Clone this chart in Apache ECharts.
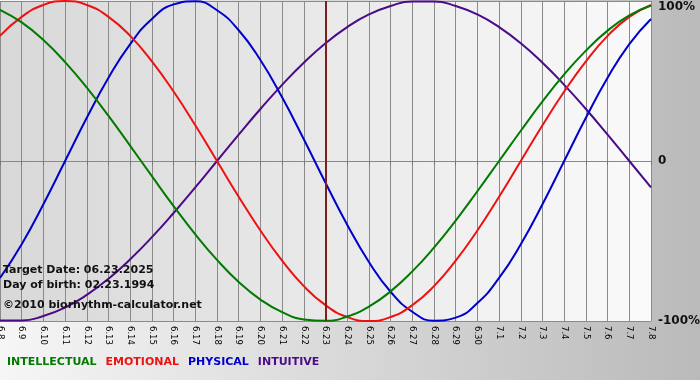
<!DOCTYPE html>
<html>
<head>
<meta charset="utf-8">
<title>biorhythm</title>
<script src="https://cdn.jsdelivr.net/npm/echarts@6/dist/echarts.min.js"></script>
<style>
html,body{margin:0;padding:0;}
#chart{width:700px;height:380px;background:linear-gradient(to right,#f6f6f6,#bababa);}
</style>
</head>
<body>
<div id="chart"></div>
<script>
// days shown on the x axis
var days = ['6.8','6.9','6.10','6.11','6.12','6.13','6.14','6.15','6.16','6.17','6.18','6.19','6.20','6.21','6.22','6.23',
	'6.24','6.25','6.26','6.27','6.28','6.29','6.30','7.1','7.2','7.3','7.4','7.5','7.6','7.7','7.8'];
var targetDay = '6.23';

// cycle values, -1 .. 1
var intellectual = [0.945,0.866,0.756,0.618,0.458,0.282,0.095,-0.095,-0.282,-0.458,-0.618,-0.756,-0.866,-0.945,-0.990,-0.999,
	-0.972,-0.910,-0.815,-0.690,-0.541,-0.372,-0.189,0.000,0.189,0.372,0.541,0.690,0.815,0.910,0.972];
var emotional = [0.782,0.901,0.975,1.000,0.975,0.901,0.782,0.623,0.434,0.223,0.000,-0.223,-0.434,-0.623,-0.782,-0.901,
	-0.975,-1.000,-0.975,-0.901,-0.782,-0.623,-0.434,-0.223,0.000,0.223,0.434,0.623,0.782,0.901,0.975];
var physical = [-0.731,-0.520,-0.270,0.000,0.270,0.520,0.731,0.888,0.979,0.998,0.942,0.817,0.631,0.398,0.136,-0.136,
	-0.398,-0.631,-0.817,-0.942,-0.998,-0.979,-0.888,-0.731,-0.520,-0.270,0.000,0.270,0.520,0.731,0.888];
var intuitive = [-0.997,-0.997,-0.969,-0.916,-0.837,-0.736,-0.614,-0.476,-0.325,-0.165,0.000,0.165,0.325,0.476,0.614,0.736,
	0.837,0.916,0.969,0.997,0.997,0.969,0.916,0.837,0.736,0.614,0.476,0.325,0.165,0.000,-0.165];

var boldFont = 'bold 11px "DejaVu Sans"';

function lineSeries(name, data, color, z){
	return {
		name: name,
		type: 'line',
		data: data,
		smooth: true,
		showSymbol: false,
		z: z,
		lineStyle: {color: color, width: 2},
		itemStyle: {color: color}
	}
}

var chart = echarts.init(document.getElementById('chart'));
var series = [
	lineSeries('INTUITIVE', intuitive, '#4b0a88', 2),
	lineSeries('PHYSICAL', physical, '#0000cc', 3),
	lineSeries('EMOTIONAL', emotional, '#ee1111', 4),
	lineSeries('INTELLECTUAL', intellectual, '#007a00', 5)
];
// the target day marker
series[0].markLine = {
	silent: true,
	symbol: 'none',
	z: 10,
	label: {show: false},
	lineStyle: {color: '#7d1f1f', width: 2, type: 'solid'},
	data: [{xAxis: targetDay}]
};

chart.setOption({
	animation: false,
	grid: {
		left: 0, right: 49, top: 1, bottom: 59,
		outerBoundsMode: 'none',
		show: true, borderWidth: 0,
		backgroundColor: {type: 'linear', x: 0, y: 0, x2: 1, y2: 0,
			colorStops: [{offset: 0, color: '#d8d8d8'}, {offset: 1, color: '#fafafa'}]}
	},
	legend: {
		left: 2, top: 357, padding: 0,
		icon: 'none', itemWidth: 0, itemHeight: 11, itemGap: 4,
		selectedMode: false,
		textStyle: {fontFamily: 'DejaVu Sans', fontWeight: 'bold', fontSize: 11},
		data: [
			{name: 'INTELLECTUAL', textStyle: {color: '#007a00'}},
			{name: 'EMOTIONAL', textStyle: {color: '#ee1111'}},
			{name: 'PHYSICAL', textStyle: {color: '#0000cc'}},
			{name: 'INTUITIVE', textStyle: {color: '#4b0a88'}}
		]
	},
	xAxis: {
		type: 'category',
		data: days,
		boundaryGap: false,
		axisLine: {lineStyle: {color: '#888'}},
		axisTick: {length: 4, interval: 0, lineStyle: {color: '#777'}},
		axisLabel: {interval: 0, rotate: -90, margin: 5, color: '#000',
			fontFamily: 'DejaVu Sans', fontSize: 8.5},
		splitLine: {show: true, interval: 0, lineStyle: {color: '#8a8a8a', width: 1}}
	},
	yAxis: {
		type: 'value',
		position: 'right',
		min: -1, max: 1, interval: 1,
		axisLine: {show: false},
		axisTick: {show: false},
		axisLabel: {
			margin: 7, color: '#111',
			fontFamily: 'DejaVu Sans', fontWeight: 'bold', fontSize: 12,
			verticalAlignMaxLabel: 'top',
			formatter: function(v){ return v === 0 ? '0' : (v * 100) + '%'; }
		},
		splitLine: {lineStyle: {color: '#8a8a8a', width: 1}}
	},
	graphic: [
		{type: 'text', left: 3, top: 265, z: 20, style: {text: 'Target Date: 06.23.2025', font: boldFont, fill: '#111'}},
		{type: 'text', left: 3, top: 280, z: 20, style: {text: 'Day of birth: 02.23.1994', font: boldFont, fill: '#111'}},
		{type: 'text', left: 3, top: 300, z: 20, style: {text: '\u00a92010 biorhythm-calculator.net', font: boldFont, fill: '#111'}}
	],
	series: series
});
</script>
</body>
</html>
